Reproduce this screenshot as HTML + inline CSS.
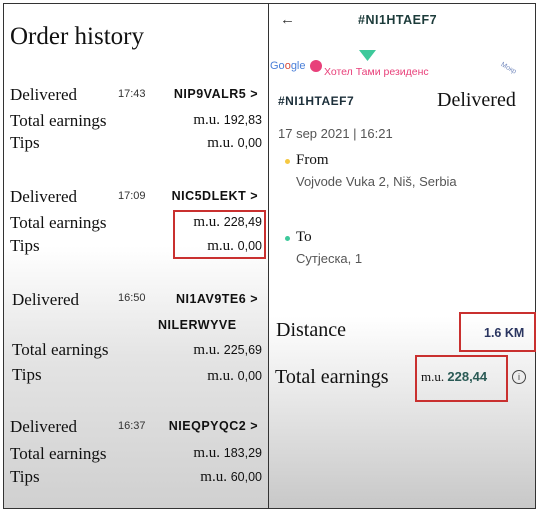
<!DOCTYPE html>
<html><head><meta charset="utf-8"><style>
*{margin:0;padding:0;box-sizing:border-box}
body{width:539px;height:512px;background:#fff;position:relative;overflow:hidden;font-family:"Liberation Serif",serif;color:#111}
.p{position:absolute;white-space:nowrap;line-height:1}
.s{font-family:"Liberation Sans","Noto Sans CJK SC",sans-serif}
.srf{font-size:17px}
.code{font-family:"Liberation Sans",sans-serif;font-weight:bold;font-size:12.5px;letter-spacing:.5px;color:#111}
.tm{font-family:"Liberation Sans",sans-serif;font-size:11px;color:#333}
.rv{right:277px}
.rc{right:281px}
.rbox{position:absolute;border:2px solid #c9302f}
.panel{position:absolute;top:3px;bottom:3px}
</style></head><body>
<div class="panel" style="left:3px;width:266px;border:1px solid #333;border-right:1px solid #555;background:linear-gradient(#fff 0%,#fff 48%,#e4e4e4 70%,#d0d0d0 100%)"></div>
<div class="panel" style="left:268px;width:268px;border:1px solid #333;background:linear-gradient(#fff 0%,#fff 62%,#c8c8c8 100%)"></div>

<div class="p" style="left:10px;top:24px;font-size:25px">Order history</div>

<!-- row 1 -->
<div class="p srf" style="left:10px;top:86px">Delivered</div>
<div class="p tm" style="left:118px;top:89px">17:43</div>
<div class="p code rc" style="top:88px">NIP9VALR5 &gt;</div>
<div class="p srf" style="left:10px;top:112px">Total earnings</div>
<div class="p rv" style="top:113px;font-size:15px">m.u. <span class="s" style="font-size:12.5px">192,83</span></div>
<div class="p srf" style="left:10px;top:134px">Tips</div>
<div class="p rv" style="top:136px;font-size:15px">m.u. <span class="s" style="font-size:12.5px">0,00</span></div>

<!-- row 2 -->
<div class="p srf" style="left:10px;top:188px">Delivered</div>
<div class="p tm" style="left:118px;top:191px">17:09</div>
<div class="p code rc" style="top:190px">NIC5DLEKT &gt;</div>
<div class="p srf" style="left:10px;top:214px">Total earnings</div>
<div class="p rv" style="top:215px;font-size:15px">m.u. <span class="s" style="font-size:12.5px">228,49</span></div>
<div class="p srf" style="left:10px;top:237px">Tips</div>
<div class="p rv" style="top:239px;font-size:15px">m.u. <span class="s" style="font-size:12.5px">0,00</span></div>
<div class="rbox" style="left:173px;top:210px;width:93px;height:49px"></div>

<!-- row 3 -->
<div class="p srf" style="left:12px;top:291px">Delivered</div>
<div class="p tm" style="left:118px;top:293px">16:50</div>
<div class="p code rc" style="top:293px">NI1AV9TE6 &gt;</div>
<div class="p code" style="left:158px;top:319px">NILERWYVE</div>
<div class="p srf" style="left:12px;top:341px">Total earnings</div>
<div class="p rv" style="top:343px;font-size:15px">m.u. <span class="s" style="font-size:12.5px">225,69</span></div>
<div class="p srf" style="left:12px;top:366px">Tips</div>
<div class="p rv" style="top:369px;font-size:15px">m.u. <span class="s" style="font-size:12.5px">0,00</span></div>

<!-- row 4 -->
<div class="p srf" style="left:10px;top:418px">Delivered</div>
<div class="p tm" style="left:118px;top:421px">16:37</div>
<div class="p code rc" style="top:420px">NIEQPYQC2 &gt;</div>
<div class="p srf" style="left:10px;top:445px">Total earnings</div>
<div class="p rv" style="top:446px;font-size:15px">m.u. <span class="s" style="font-size:12.5px">183,29</span></div>
<div class="p srf" style="left:10px;top:468px">Tips</div>
<div class="p rv" style="top:470px;font-size:15px">m.u. <span class="s" style="font-size:12.5px">60,00</span></div>

<!-- right panel -->
<div class="p s" style="left:280px;top:12px;font-size:15px;color:#333">←</div>
<div class="p code" style="left:358px;top:14px;color:#1c3b3a">#NI1HTAEF7</div>
<svg style="position:absolute;left:359px;top:50px" width="17" height="11"><polygon points="0,0 17,0 8.5,11" fill="#3ec99b"/></svg>
<div class="p s" style="left:270px;top:61px;font-size:11px;color:#4a7fd8">Go<span style="color:#d84a3a">o</span>gle</div>
<div class="p" style="left:310px;top:60px;width:12px;height:12px;border-radius:50%;background:#e8407a"></div>
<div class="p s" style="left:324px;top:67px;font-size:10.5px;color:#e8407a">Хотел Тами резиденс</div>
<div class="p s" style="left:500px;top:65px;font-size:7px;color:#7a8fc0;transform:rotate(30deg)">Мокр</div>
<div class="p code" style="left:278px;top:95px;font-size:12px;color:#1c2f3a">#NI1HTAEF7</div>
<div class="p" style="left:437px;top:90px;font-size:20px">Delivered</div>
<div class="p s" style="left:278px;top:127px;font-size:13px;color:#555">17 sep 2021 | 16:21</div>
<div class="p" style="left:285px;top:159px;width:5px;height:5px;border-radius:50%;background:#f5c842"></div>
<div class="p" style="left:296px;top:153px;font-size:15px">From</div>
<div class="p s" style="left:296px;top:175px;font-size:13px;color:#555">Vojvode Vuka 2, Niš, Serbia</div>
<div class="p" style="left:285px;top:236px;width:5px;height:5px;border-radius:50%;background:#3ec99b"></div>
<div class="p" style="left:296px;top:230px;font-size:15px">To</div>
<div class="p s" style="left:296px;top:252px;font-size:13px;color:#555">Сутјеска, 1</div>
<div class="p" style="left:276px;top:320px;font-size:20px">Distance</div>
<div class="p s" style="left:484px;top:327px;font-size:12.5px;font-weight:bold;color:#2a3560">1.6 KM</div>
<div class="rbox" style="left:459px;top:312px;width:77px;height:40px"></div>
<div class="p" style="left:275px;top:367px;font-size:20px">Total earnings</div>
<div class="p" style="left:421px;top:370px;font-size:13px">m.u. <span class="s" style="font-size:13px;font-weight:bold;color:#2a5a55">228,44</span></div>
<div class="rbox" style="left:415px;top:355px;width:93px;height:47px"></div>
<div class="p s" style="left:512px;top:370px;width:14px;height:14px;border:1.3px solid #444;border-radius:50%;font-size:9px;text-align:center;line-height:12px;color:#444">i</div>
</body></html>
